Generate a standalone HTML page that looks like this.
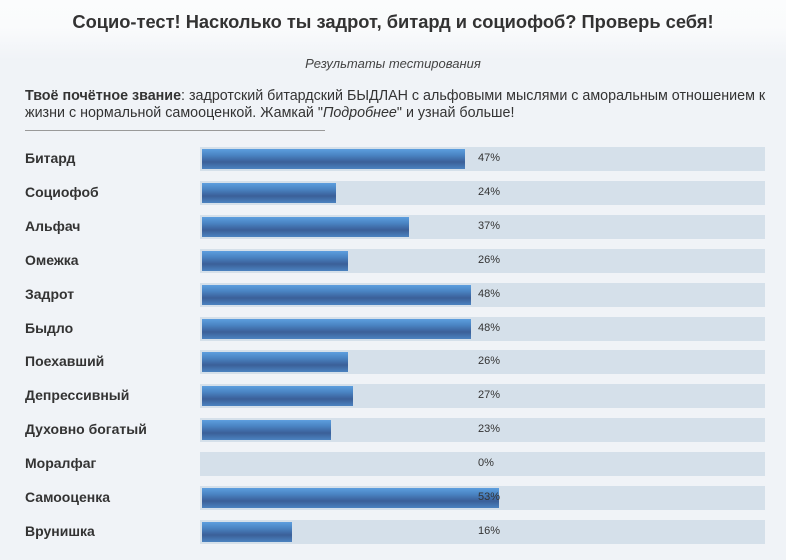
<!DOCTYPE html><html><head><meta charset="utf-8"><style>
body{margin:0;width:786px;height:560px;background:#f0f3f7;font-family:"Liberation Sans",sans-serif;color:#333;position:relative;overflow:hidden}
.hd{position:absolute;left:0;top:0;width:786px;height:60px;background:linear-gradient(#fbfcfd 0,#fafbfc 45%,#f0f3f7 100%)}
.t{position:absolute;left:0;width:786px;top:11px;text-align:center;font-weight:bold;font-size:18.3px;color:#333}
.s{position:absolute;left:0;width:786px;top:56px;text-align:center;font-style:italic;font-size:13px;color:#444}
.p{position:absolute;left:25px;top:88px;width:750px;font-size:14.3px;line-height:17px;color:#333}
.hr{position:absolute;left:25px;top:130px;width:300px;height:1px;background:#999}
.l{position:absolute;left:25px;font-weight:bold;font-size:14px;color:#333}
.tr{position:absolute;left:200px;width:565px;height:24px;background:#d5e0ea}
.b{position:absolute;left:2px;top:2px;height:20px;background:linear-gradient(#5d9ede 0,#4a85c4 30%,#3b5f98 65%,#4b82c0 100%)}
.v{position:absolute;left:278px;top:5px;font-size:11px;color:#333}
</style></head><body>
<div class="hd"></div>
<div class="t">Социо-тест! Насколько ты задрот, битард и социофоб? Проверь себя!</div>
<div class="s">Результаты тестирования</div>
<div class="p"><b>Твоё почётное звание</b>: задротский битардский БЫДЛАН с альфовыми мыслями с аморальным отношением к жизни с нормальной самооценкой. Жамкай "<i>Подробнее</i>" и узнай больше!</div>
<div class="hr"></div>
<div id="rows"></div>
<script>
var d=[["Битард",47],["Социофоб",24],["Альфач",37],["Омежка",26],["Задрот",48],["Быдло",48],["Поехавший",26],["Депрессивный",27],["Духовно богатый",23],["Моралфаг",0],["Самооценка",53],["Врунишка",16]];
var h="";d.forEach(function(r,i){var y=147+i*33.9;
h+='<div class="l" style="top:'+(y+3)+'px">'+r[0]+'</div><div class="tr" style="top:'+y+'px">'+(r[1]?'<div class="b" style="width:'+(r[1]*5.6)+'px"></div>':'')+'<div class="v">'+r[1]+'%</div></div>';});
document.getElementById("rows").innerHTML=h;
</script>
</body></html>
